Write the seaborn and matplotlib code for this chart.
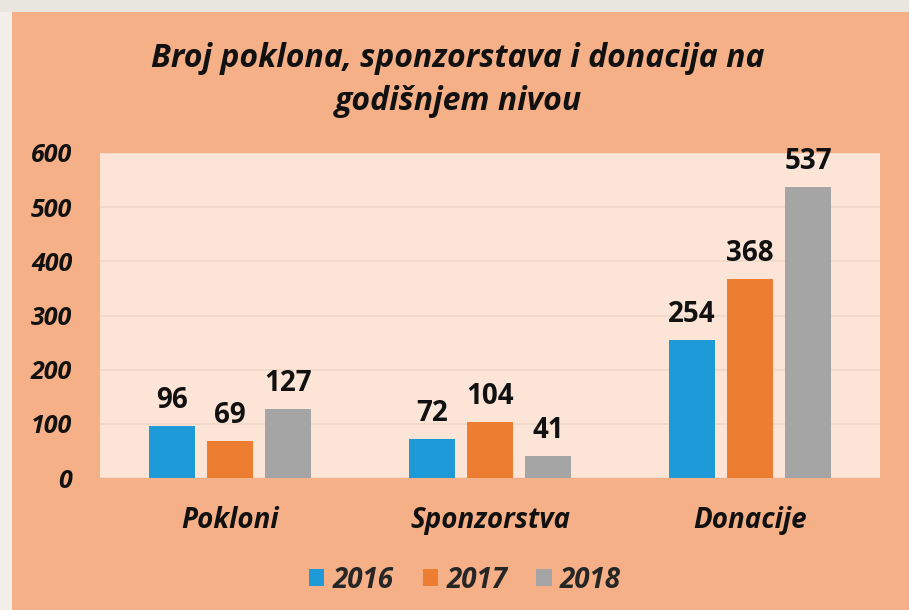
import matplotlib
matplotlib.use("Agg")
import matplotlib.pyplot as plt
import seaborn as sns
import pandas as pd
from matplotlib.patches import Rectangle

categories = ["Pokloni", "Sponzorstva", "Donacije"]
years = ["2016", "2017", "2018"]
v2016 = [96, 72, 254]
v2017 = [69, 104, 368]
v2018 = [127, 41, 537]
yticks = [0, 100, 200, 300, 400, 500, 600]

rows = []
for yr, vals in zip(years, [v2016, v2017, v2018]):
    for c, v in zip(categories, vals):
        rows.append({"cat": c, "year": yr, "val": v})
df = pd.DataFrame(rows)

sns.set_theme(style="white")
plt.rcParams['font.family'] = ['Open Sans', 'DejaVu Sans']

W = "bold"
bg = "#F5B088"
fig = plt.figure(figsize=(9.09, 6.10), dpi=100, facecolor=bg)
fig.patches.append(Rectangle((0, 0), 12/909, 1, transform=fig.transFigure, facecolor="#F3EEEA", edgecolor="none", zorder=0))
fig.patches.append(Rectangle((0, 1 - 12/610), 1, 12/610, transform=fig.transFigure, facecolor="#E9E6E0", edgecolor="none", zorder=0))

ax = fig.add_axes([100/909, (610-478)/610, 780/909, (478-153)/610])
ax.set_facecolor("#FCE4D6")
palette = {"2016": "#1E9AD8", "2017": "#ED7D31", "2018": "#A5A5A5"}
sns.barplot(data=df, x="cat", y="val", hue="year", palette=palette, order=categories,
            hue_order=years, width=0.67, gap=0.22, ax=ax, legend=True, saturation=1,
            linewidth=0)
ax.set_ylim(0, 600)
ax.set_xlim(-0.5, 2.5)
ax.set_yticks(yticks)
ax.set_yticklabels([str(t) for t in yticks], fontsize=18, fontweight=W, fontstyle="italic", color="#111111")
ax.set_xticklabels(categories, fontsize=20, fontweight=W, fontstyle="italic", color="#111111")
ax.tick_params(axis="x", pad=20, length=0)
ax.tick_params(axis="y", pad=20, length=0)
ax.grid(axis="y", color="#F1D8C9", linewidth=1.2)
ax.set_axisbelow(True)
for s in ax.spines.values():
    s.set_visible(False)
ax.set_xlabel("")
ax.set_ylabel("")

for cont in ax.containers:
    ax.bar_label(cont, fmt="%d", padding=8, fontsize=20, fontweight=W, color="#111111")

handles, labels = ax.get_legend_handles_labels()
ax.legend_.remove()
fig.legend(handles, labels, loc="center", bbox_to_anchor=(465/909, 1 - 580/610), ncol=3,
           frameon=False, handlelength=0.55, handleheight=0.55, handletextpad=0.3, columnspacing=1.05,
           prop={"size": 20, "weight": W, "style": "italic"})

fig.text(458/909, 1 - 80/610, "Broj poklona, sponzorstava i donacija na\ngodišnjem nivou",
         ha="center", va="center", fontsize=23, fontweight=W, fontstyle="italic",
         color="#111111", linespacing=1.4)

fig.savefig("out.png", dpi=100, facecolor=bg)
